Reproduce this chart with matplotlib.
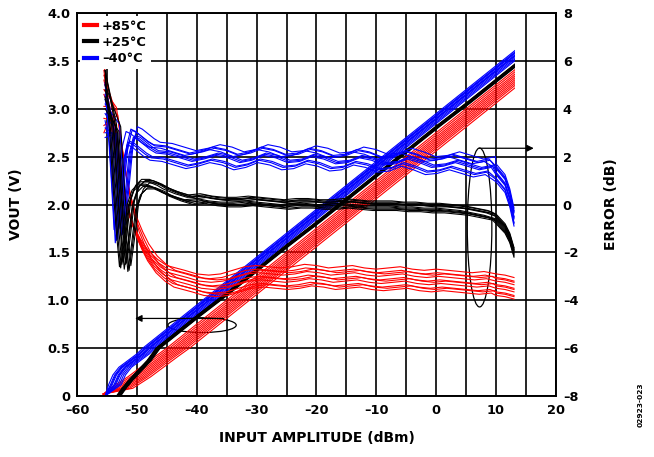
import numpy as np
import matplotlib
matplotlib.use("Agg")
import matplotlib.pyplot as plt
from matplotlib.patches import Ellipse, Rectangle
from matplotlib.lines import Line2D

plt.rcParams['font.family'] = ['DejaVu Sans']
plt.rcParams['font.weight'] = 'bold'
plt.rcParams['axes.labelweight'] = 'bold'

# VOUT vs input level, one base trace per temperature (x in dBm, y in V)
blue_v_x = [-55.3, -54.7, -54.0, -53.0, -51.5, -50.0, -49.0, -45, -40, -35, -30, -25, -20, -15, -10, -5, 0, 5, 10, 13, 16]
blue_v_y = [0.0, 0.12, 0.22, 0.30, 0.37, 0.44, 0.50, 0.70, 0.95, 1.20, 1.45, 1.70, 1.95, 2.20, 2.45, 2.70, 2.95, 3.20, 3.45, 3.60, 3.75]
black_v_x = [-53.4, -52.5, -51.3, -49.8, -48.3, -46.8, -45, -40, -35, -30, -25, -20, -15, -10, -5, 0, 5, 10, 13, 16]
black_v_y = [0.0, 0.08, 0.17, 0.27, 0.37, 0.50, 0.59, 0.84, 1.08, 1.33, 1.58, 1.82, 2.07, 2.32, 2.57, 2.82, 3.06, 3.31, 3.46, 3.61]
red_v_x = [-55.6, -54.5, -53.0, -51.5, -50.0, -48.5, -47.0, -45, -40, -35, -30, -25, -20, -15, -10, -5, 0, 5, 10, 13, 16]
red_v_y = [0.02, 0.08, 0.14, 0.20, 0.27, 0.34, 0.41, 0.50, 0.75, 1.00, 1.25, 1.50, 1.75, 2.00, 2.25, 2.50, 2.75, 3.00, 3.25, 3.40, 3.55]
sweep_end = 13.2  # last input level of the sweep, dBm

# unit to unit spread of VOUT (dB, horizontal)
blue_v_shift = [0.0, 0.3, 0.6, 0.9, 1.2, 1.5, 1.8, 2.1, 0.45, 1.05]
black_v_shift = [0.0, 0.1, 0.2, 0.3, 0.4, 0.5, 0.6, 0.7, 0.15, 0.45]
red_v_shift = [0.0, 0.45, 0.9, 1.3, 1.7, 2.1, 2.5, 2.9, 3.3, 3.8]

# log conformance error (dB)
blue_e_x = [-55.3, -54.8, -54.2, -53.8, -53.2, -52.5, -51.8, -51.0, -50.0, -49.0, -48.0,
            -46, -44, -42, -40, -38, -36, -34, -32, -30, -28, -26, -24, -22, -20, -18, -16, -14, -12,
            -10, -8, -6, -4, -2, 0, 2, 4, 6, 8, 10, 11.5, 12.3, 13.0]
blue_e_y = [5.0, 3.0, 0.6, -1.2, 0.4, 2.2, 2.9, 2.8, 2.6, 2.4, 2.25,
            2.2, 2.05, 1.9, 2.0, 2.15, 2.05, 1.85, 1.95, 2.15, 2.05, 1.85, 1.9, 2.1, 2.0, 1.8, 1.85, 2.05, 1.95,
            1.75, 1.8, 2.0, 1.85, 1.65, 1.7, 1.85, 1.7, 1.55, 1.65, 1.35, 0.9, 0.3, -0.5]
black_e_x = [-55.3, -54.6, -54.0, -53.4, -52.9, -52.3, -51.6, -50.8, -49.8, -48.5, -47.0,
             -46, -44, -42, -40, -38, -36, -34, -32, -30, -28, -26, -24, -22, -20, -18, -16, -14, -12,
             -10, -8, -6, -4, -2, 0, 2, 4, 6, 8, 10, 11.5, 12.3, 13.0]
black_e_y = [5.6, 3.2, 0.8, -1.2, -2.6, -1.5, 0.0, 0.6, 0.85, 0.85, 0.7,
             0.55, 0.35, 0.2, 0.25, 0.15, 0.1, 0.1, 0.15, 0.1, 0.05, 0.0, 0.05, 0.05, 0.0, 0.0, 0.05, 0.0, -0.05,
             -0.05, -0.05, -0.1, -0.1, -0.15, -0.15, -0.2, -0.25, -0.35, -0.45, -0.6, -1.0, -1.4, -2.0]
red_e_x = [-55.5, -54.8, -54.0, -53.2, -52.3, -51.4, -50.4, -49.4, -48.0, -46.5, -45.0,
           -42, -40, -38, -36, -34, -32, -30, -28, -26, -24, -22, -20, -18, -16, -14, -12,
           -10, -8, -6, -4, -2, 0, 2, 4, 6, 8, 10, 11.5, 13.0]
red_e_y = [5.6, 3.8, 2.3, 1.0, 0.0, -0.8, -1.4, -1.9, -2.4, -2.75, -3.0,
           -3.2, -3.35, -3.4, -3.35, -3.2, -3.05, -3.0, -3.05, -3.1, -3.05, -2.95, -3.0, -3.1, -3.05, -3.0, -3.1,
           -3.15, -3.1, -3.05, -3.15, -3.2, -3.15, -3.2, -3.25, -3.3, -3.25, -3.35, -3.4, -3.5]

# per unit: start value, horizontal shift, vertical offset of the error trace
blue_e0 = [5.1, 4.6, 3.8, 3.2, 2.8, 4.2, 3.5, 5.0, 3.0, 4.4]
blue_dx = [0.0, 0.4, 0.8, 1.2, 1.6, 1.9, 0.2, 1.0, 1.4, 0.6]
blue_dy = [0.15, -0.3, 0.25, -0.1, 0.0, 0.35, -0.4, 0.2, -0.05, -0.25]
black_e0 = [5.6, 5.2, 4.5, 5.6, 4.0, 5.0, 5.4, 4.8, 5.6, 4.4]
black_dx = [0.0, 0.4, 0.8, 1.2, 1.6, 1.9, 0.2, 0.6, 1.0, 1.4]
black_dy = [0.0, 0.1, -0.1, 0.15, -0.15, 0.05, -0.05, 0.2, 0.1, -0.2]
red_e0 = [5.6, 4.1, 5.2, 3.0, 4.6, 3.6, 5.8, 4.8, 3.3, 5.4]
red_dx = [0.0, 0.2, 0.4, 0.6, 0.8, 1.0, 1.2, 1.4, 1.6, 1.8]
red_dy = [0.45, 0.3, 0.15, 0.0, -0.15, -0.3, -0.45, 0.25, -0.05, -0.35]

temps = ['+85°C', '+25°C', '–40°C']
colors = ['#ff0000', '#000000', '#0000ff']


def unit_vout(xs, ys, dx, move_start=False):
    x = np.array(xs, float)
    y = np.array(ys, float)
    if move_start:
        x += dx
    else:
        x[1:] += dx
    return x, y


def unit_err(xs, ys, e0, dx, dy):
    x = np.array(xs, float)
    y = np.array(ys, float) + dy
    m = x <= 8
    m[0] = False
    x[m] += dx
    y[0] = e0
    return x, y


fig = plt.figure(figsize=(6.54, 4.57), dpi=100)
ax = fig.add_axes([0.1177, 0.1335, 0.7323, 0.838])
ax2 = ax.twinx()

# VOUT traces stop at the end of the sweep
sweep = Rectangle((-60, 0), sweep_end + 60, 4, transform=ax.transData)

lw = 0.8
vout = []
for dx in red_v_shift:
    vout += ax.plot(*unit_vout(red_v_x, red_v_y, dx), color=colors[0], lw=lw)
for dx in blue_v_shift:
    vout += ax.plot(*unit_vout(blue_v_x, blue_v_y, dx), color=colors[2], lw=lw)
for dx in black_v_shift:
    vout += ax.plot(*unit_vout(black_v_x, black_v_y, dx, True), color=colors[1], lw=lw)
for ln in vout:
    ln.set_clip_path(sweep)

for e0, dx, dy in zip(red_e0, red_dx, red_dy):
    ax2.plot(*unit_err(red_e_x, red_e_y, e0, dx, dy), color=colors[0], lw=lw)
for e0, dx, dy in zip(blue_e0, blue_dx, blue_dy):
    ax2.plot(*unit_err(blue_e_x, blue_e_y, e0, dx, dy), color=colors[2], lw=lw)
for e0, dx, dy in zip(black_e0, black_dx, black_dy):
    ax2.plot(*unit_err(black_e_x, black_e_y, e0, dx, dy), color=colors[1], lw=lw)

# axes, grid, labels
ax.set_xlim(-60, 20)
ax.set_ylim(0, 4)
ax2.set_ylim(-8, 8)
ax.set_xticks(np.arange(-60, 21, 5))
ax.set_xticklabels(['–60', '', '–50', '', '–40', '', '–30', '', '–20', '', '–10', '', '0', '', '10', '', '20'])
ax.set_yticks(np.arange(0, 4.01, 0.5))
ax.set_yticklabels(['0', '0.5', '1.0', '1.5', '2.0', '2.5', '3.0', '3.5', '4.0'])
ax2.set_yticks(np.arange(-8, 9, 2))
ax2.set_yticklabels(['–8', '–6', '–4', '–2', '0', '2', '4', '6', '8'])
ax.grid(True, color='black', lw=1.2)
ax.set_axisbelow(True)
ax.tick_params(axis='x', length=0, labelsize=9.3, pad=6)
ax.tick_params(axis='y', length=0, labelsize=9.3, pad=5)
ax2.tick_params(length=0, labelsize=9.3, pad=5)
for a in (ax, ax2):
    for s in a.spines.values():
        s.set_linewidth(1.2)
ax.set_xlabel('INPUT AMPLITUDE (dBm)', fontsize=10)
ax.set_ylabel('VOUT (V)', fontsize=10)
ax2.set_ylabel('ERROR (dB)', fontsize=10)
ax.xaxis.set_label_coords(0.5, -0.092)
ax.yaxis.set_label_coords(-0.112, 0.5)
ax2.yaxis.set_label_coords(1.1, 0.5)

# callouts tying each family of traces to its axis
ax.add_patch(Ellipse((-39.1, 0.74), 11.4, 0.155, fill=False, ec='black', lw=0.9))
ax.annotate('', xy=(-50.3, 0.81), xytext=(-35.5, 0.81),
            arrowprops=dict(arrowstyle='-|>', color='black', lw=0.9, mutation_scale=10,
                            shrinkA=0, shrinkB=0))
ax2.add_patch(Ellipse((7.25, -0.96), 4.1, 6.64, fill=False, ec='black', lw=0.9))
ax2.annotate('', xy=(16.3, 2.35), xytext=(7.2, 2.35),
             arrowprops=dict(arrowstyle='-|>', color='black', lw=0.9, mutation_scale=10,
                             shrinkA=0, shrinkB=0))

handles = [Line2D([], [], color=c, lw=3) for c in colors]
leg = ax2.legend(handles, temps, loc='upper left', bbox_to_anchor=(0.0, 1.0), fontsize=9.4,
                 frameon=True, framealpha=1, edgecolor='none', fancybox=False,
                 handlelength=1.0, handletextpad=0.4, labelspacing=0.25, borderpad=0.3, borderaxespad=0.2)
leg.set_zorder(10)

fig.text(0.979, 0.114, '02923-023', rotation=90, fontsize=5.4, ha='center', va='center')

fig.savefig('out.png', dpi=100)
